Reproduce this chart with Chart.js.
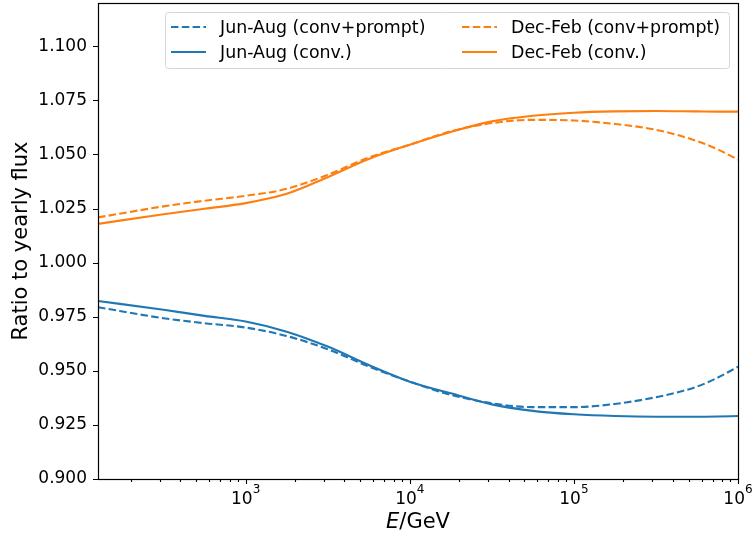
<!DOCTYPE html>
<html>
<head>
<meta charset="utf-8">
<script src="https://cdn.jsdelivr.net/npm/chart.js@4/dist/chart.umd.min.js"></script>
<style>
  html, body { margin: 0; padding: 0; background: #ffffff; }
  canvas { display: block; }
</style>
</head>
<body>
<canvas id="ratio" width="753" height="539"></canvas>
<script>
// Seasonal neutrino flux relative to the yearly average, vs. energy
const energyGeV = [126, 316, 562, 1000, 1778, 3162, 5623, 10000, 17783, 31623, 56234, 100000, 177828, 316228, 562341, 749894, 1000000];
const junAugConvPrompt = [0.9794, 0.9743, 0.9720, 0.9700, 0.9661, 0.9600, 0.9520, 0.9450, 0.9389, 0.9350, 0.9332, 0.9332, 0.9347, 0.9378, 0.9427, 0.9468, 0.9519];
const junAugConv       = [0.9823, 0.9782, 0.9754, 0.9728, 0.9681, 0.9612, 0.9527, 0.9450, 0.9396, 0.9345, 0.9315, 0.9299, 0.9291, 0.9288, 0.9288, 0.9289, 0.9291];
const decFebConvPrompt = [1.0209, 1.0260, 1.0286, 1.0309, 1.0341, 1.0406, 1.0486, 1.0545, 1.0607, 1.0645, 1.0660, 1.0657, 1.0641, 1.0614, 1.0562, 1.0524, 1.0476];
const decFebConv       = [1.0179, 1.0224, 1.0249, 1.0275, 1.0318, 1.0395, 1.0479, 1.0545, 1.0604, 1.0653, 1.0679, 1.0693, 1.0699, 1.0701, 1.0699, 1.0698, 1.0698];

const seriesLabels = ['Jun-Aug (conv+prompt)', 'Jun-Aug (conv.)', 'Dec-Feb (conv+prompt)', 'Dec-Feb (conv.)'];
const yTickValues = [0.900, 0.925, 0.950, 0.975, 1.000, 1.025, 1.050, 1.075, 1.100];
const xTickValues = [1e3, 1e4, 1e5, 1e6];
const xTickExponents = ['3', '4', '5', '6'];

const BLUE = '#1f77b4';
const ORANGE = '#ff7f0e';
const FONT = "'DejaVu Sans', sans-serif";
const DASH = [7.5, 3.3];

const toPoints = ys => energyGeV.map((e, i) => ({ x: e, y: ys[i] }));

function makeSet(label, ys, color, dashed) {
  return {
    label,
    data: toPoints(ys),
    borderColor: color,
    backgroundColor: color,
    borderWidth: 2.1,
    borderDash: dashed ? DASH : [],
    pointRadius: 0,
    cubicInterpolationMode: 'monotone',
    fill: false
  };
}

function zeroPadding(s) {
  s.paddingTop = 0; s.paddingBottom = 0; s.paddingLeft = 0; s.paddingRight = 0;
}

// Frame, tick marks, power-of-ten labels, axis titles and two-column legend
const decorations = {
  id: 'decorations',
  afterDatasetsDraw(chart) {
    const { ctx, chartArea: a, scales } = chart;
    const xs = scales.x, ys = scales.y;
    ctx.save();

    // tick marks (outward)
    ctx.strokeStyle = '#000';
    ctx.lineWidth = 1.1;
    ctx.beginPath();
    yTickValues.forEach(v => {
      const y = Math.round(ys.getPixelForValue(v)) + 0.5;
      ctx.moveTo(a.left - 5, y); ctx.lineTo(a.left, y);
    });
    for (let p = 2; p <= 6; p++) {
      for (let m = 1; m <= 9; m++) {
        const v = m * Math.pow(10, p);
        if (v < xs.min || v > xs.max * 1.0001) continue;
        const x = Math.round(xs.getPixelForValue(v)) + 0.5;
        const len = m === 1 ? 5 : 3;
        ctx.moveTo(x, a.bottom); ctx.lineTo(x, a.bottom + len);
      }
    }
    ctx.stroke();

    // axes frame
    ctx.lineWidth = 1.2;
    ctx.strokeRect(Math.round(a.left) + 0.5, Math.round(a.top) + 0.5,
                   Math.round(a.right - a.left), Math.round(a.bottom - a.top));

    // x tick labels: 10 with raised exponent
    ctx.fillStyle = '#000';
    ctx.textBaseline = 'alphabetic';
    ctx.textAlign = 'left';
    xTickValues.forEach((v, i) => {
      const x = xs.getPixelForValue(v);
      ctx.font = "17px " + FONT;
      const bw = ctx.measureText('10').width;
      ctx.font = "12px " + FONT;
      const ew = ctx.measureText(xTickExponents[i]).width;
      const x0 = x - (bw + ew) / 2;
      ctx.font = "17px " + FONT;
      ctx.fillText('10', x0, a.bottom + 25);
      ctx.font = "12px " + FONT;
      ctx.fillText(xTickExponents[i], x0 + bw, a.bottom + 14);
    });

    // axis titles
    ctx.textBaseline = 'middle';
    ctx.font = "italic 21px " + FONT;
    const eW = ctx.measureText('E').width;
    ctx.font = "21px " + FONT;
    const restW = ctx.measureText('/GeV').width;
    const cx = (a.left + a.right) / 2;
    const startX = cx - (eW + restW) / 2;
    ctx.font = "italic 21px " + FONT;
    ctx.fillText('E', startX, 523);
    ctx.font = "21px " + FONT;
    ctx.fillText('/GeV', startX + eW, 523);

    ctx.save();
    ctx.translate(22, (a.top + a.bottom) / 2);
    ctx.rotate(-Math.PI / 2);
    ctx.textAlign = 'center';
    ctx.fillText('Ratio to yearly flux', 0, 0);
    ctx.restore();

    // legend box
    const box = { x: 165, y: 12, w: 564, h: 56, r: 3 };
    ctx.beginPath();
    ctx.roundRect(box.x + 0.5, box.y + 0.5, box.w, box.h, box.r);
    ctx.fillStyle = 'rgba(255,255,255,0.8)';
    ctx.fill();
    ctx.strokeStyle = '#d6d6d6';
    ctx.lineWidth = 1;
    ctx.stroke();

    const slots = [
      { i: 0, lx: 171, tx: 220, y: 27 },
      { i: 1, lx: 171, tx: 220, y: 52 },
      { i: 2, lx: 462, tx: 511, y: 27 },
      { i: 3, lx: 462, tx: 511, y: 52 }
    ];
    ctx.font = "17.4px " + FONT;
    ctx.textAlign = 'left';
    ctx.textBaseline = 'middle';
    slots.forEach(s => {
      const ds = chart.data.datasets[s.i];
      ctx.strokeStyle = ds.borderColor;
      ctx.lineWidth = ds.borderWidth;
      ctx.setLineDash(ds.borderDash);
      ctx.beginPath();
      ctx.moveTo(s.lx, s.y); ctx.lineTo(s.lx + 35, s.y);
      ctx.stroke();
      ctx.setLineDash([]);
      ctx.fillStyle = '#000';
      ctx.fillText(ds.label, s.tx, s.y + 1);
    });

    ctx.restore();
  }
};

new Chart(document.getElementById('ratio'), {
  type: 'line',
  data: {
    datasets: [
      makeSet(seriesLabels[0], junAugConvPrompt, BLUE, true),
      makeSet(seriesLabels[1], junAugConv, BLUE, false),
      makeSet(seriesLabels[2], decFebConvPrompt, ORANGE, true),
      makeSet(seriesLabels[3], decFebConv, ORANGE, false)
    ]
  },
  options: {
    responsive: false,
    animation: false,
    layout: { padding: { left: 0, right: 15, top: 3, bottom: 0 } },
    plugins: { legend: { display: false }, tooltip: { enabled: false } },
    scales: {
      x: {
        type: 'logarithmic',
        min: 126,
        max: 1e6,
        grid: { display: false, drawTicks: false },
        border: { display: false },
        afterBuildTicks: s => { s.ticks = xTickValues.map(v => ({ value: v })); },
        afterFit: s => { s.height = 60; zeroPadding(s); },
        ticks: { display: false, autoSkip: false, maxRotation: 0 }
      },
      y: {
        type: 'linear',
        min: 0.9,
        max: 1.12,
        grid: { display: false, drawTicks: false },
        border: { display: false },
        afterBuildTicks: s => { s.ticks = yTickValues.map(v => ({ value: v })); },
        afterFit: s => { s.width = 98; zeroPadding(s); },
        ticks: {
          padding: 11,
          color: '#000',
          font: { family: FONT, size: 17 },
          callback: v => Number(v).toFixed(3)
        }
      }
    }
  },
  plugins: [decorations]
});
</script>
</body>
</html>
